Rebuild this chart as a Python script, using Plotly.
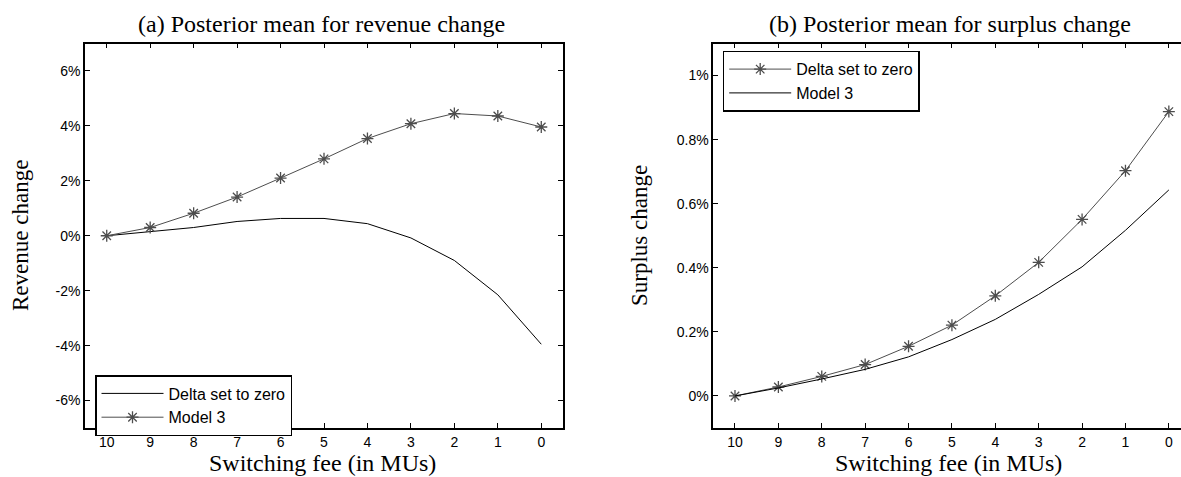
import plotly.graph_objects as go

# Switching fee levels (in MUs), plotted from 10 down to 0
fees = [10, 9, 8, 7, 6, 5, 4, 3, 2, 1, 0]

# Panel (a): posterior mean revenue change, in percent
rev_delta_zero = [0.0, 0.16, 0.30, 0.52, 0.63, 0.63, 0.44, -0.08, -0.90, -2.15, -3.95]
rev_model3 = [0.0, 0.30, 0.82, 1.41, 2.10, 2.80, 3.54, 4.08, 4.45, 4.36, 3.96]

# Panel (b): posterior mean surplus change, in percent
sur_delta_zero = [0.0, 0.028, 0.061, 0.098, 0.155, 0.221, 0.3125, 0.417, 0.551, 0.703, 0.8875]
sur_model3 = [0.0, 0.025, 0.053, 0.083, 0.122, 0.176, 0.239, 0.317, 0.403, 0.517, 0.643]

# Tick labels
rev_tickvals = [-6, -4, -2, 0, 2, 4, 6]
rev_ticktext = ["-6%", "-4%", "-2%", "0%", "2%", "4%", "6%"]
sur_tickvals = [0, 0.2, 0.4, 0.6, 0.8, 1.0]
sur_ticktext = ["0%", "0.2%", "0.4%", "0.6%", "0.8%", "1%"]

titles = ["(a) Posterior mean for revenue change", "(b) Posterior mean for surplus change"]
ytitles = ["Revenue change", "Surplus change"]
xtitle = "Switching fee (in MUs)"

W, H = 1181, 477
SERIF = "Liberation Serif, Times New Roman, serif"
SANS = "Liberation Sans, Arial, sans-serif"


def px(x):
    return x / W


def py(y):
    return (H - y) / H


fig = go.Figure()

plain = dict(color="black", width=1)
starred_line = dict(color="#4d4d4d", width=1)
star_marker = dict(symbol="asterisk-open", size=10, line=dict(color="black", width=1.3))

# Panel (a)
fig.add_trace(go.Scatter(x=fees, y=rev_delta_zero, mode="lines", line=plain,
                         name="Delta set to zero", xaxis="x", yaxis="y", legend="legend"))
fig.add_trace(go.Scatter(x=fees, y=rev_model3, mode="lines+markers", line=starred_line,
                         marker=star_marker, name="Model 3", xaxis="x", yaxis="y", legend="legend"))

# Panel (b)
fig.add_trace(go.Scatter(x=fees, y=sur_delta_zero, mode="lines+markers", line=starred_line,
                         marker=star_marker, name="Delta set to zero", xaxis="x2", yaxis="y2",
                         legend="legend2"))
fig.add_trace(go.Scatter(x=fees, y=sur_model3, mode="lines", line=plain,
                         name="Model 3", xaxis="x2", yaxis="y2", legend="legend2"))

axis_common = dict(
    showline=True, linecolor="black", linewidth=1.5,
    ticks="inside", ticklen=5, tickwidth=1, tickcolor="black",
    showgrid=False, zeroline=False,
    tickfont=dict(family=SANS, size=14, color="black"),
)

ydom = [py(428), py(43.5)]
legend_common = dict(xanchor="left", yanchor="top",
                     bordercolor="black", borderwidth=1.5, bgcolor="white",
                     font=dict(family=SANS, size=16, color="black"),
                     itemwidth=62, tracegroupgap=0, traceorder="normal")

fig.update_layout(
    width=W, height=H,
    margin=dict(l=0, r=0, t=0, b=0),
    paper_bgcolor="white", plot_bgcolor="white",
    xaxis=dict(domain=[px(85), px(563)], range=[10.5, -0.5], tickvals=fees,
               mirror="ticks", anchor="y", **axis_common),
    yaxis=dict(domain=ydom, range=[-7, 7], tickvals=rev_tickvals, ticktext=rev_ticktext,
               mirror="ticks", anchor="x", **axis_common),
    xaxis2=dict(domain=[px(713.3), 1.0], range=[10.5, -0.28], tickvals=fees,
                mirror="ticks", anchor="y2", **axis_common),
    yaxis2=dict(domain=ydom, range=[-0.1, 1.1], tickvals=sur_tickvals, ticktext=sur_ticktext,
                mirror=False, anchor="x2", **axis_common),
    legend=dict(x=px(95), y=py(375), **legend_common),
    legend2=dict(x=px(722.7), y=py(50.7), **legend_common),
    showlegend=True,
)

# Panel titles and axis titles
annotations = []
for cx, t in [(321, titles[0]), (950, titles[1])]:
    annotations.append(dict(text=t, x=px(cx), y=py(24), xref="paper", yref="paper",
                            xanchor="center", yanchor="middle", showarrow=False,
                            font=dict(family=SERIF, size=24, color="black")))
for cx in [322, 948]:
    annotations.append(dict(text=xtitle, x=px(cx), y=py(463), xref="paper", yref="paper",
                            xanchor="center", yanchor="middle", showarrow=False,
                            font=dict(family=SERIF, size=24, color="black")))
for cx, t in [(21, ytitles[0]), (640, ytitles[1])]:
    annotations.append(dict(text=t, x=px(cx), y=py(236), xref="paper", yref="paper",
                            xanchor="center", yanchor="middle", showarrow=False, textangle=-90,
                            font=dict(family=SERIF, size=23, color="black")))
fig.update_layout(annotations=annotations)

fig.write_html("out.html")
